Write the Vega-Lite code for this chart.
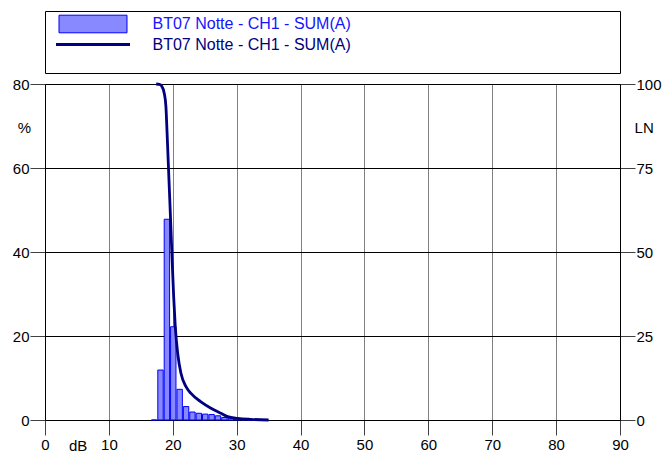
{
  "$schema": "https://vega.github.io/schema/vega-lite/v6.json",
  "padding": {"left": 11, "top": 10, "right": 0, "bottom": 6},
  "background": "white",
  "spacing": 11,
  "bounds": "flush",
  "config": {
    "view": {"stroke": "black", "strokeWidth": 1},
    "font": "Liberation Sans",
    "axis": {
      "labelFont": "Liberation Sans", "labelFontSize": 15, "labelColor": "black",
      "titleFont": "Liberation Sans", "titleFontSize": 15, "titleFontWeight": "normal", "titleColor": "black",
      "domainColor": "black", "tickColor": "#404040", "tickSize": 15, "labelFlush": false, "labelOverlap": false
    },
    "legend": {"labelFont": "Liberation Sans", "labelFontSize": 16, "padding": 0, "title": null, "labelLimit": 500}
  },
  "resolve": {"scale": {"fill": "independent", "stroke": "independent"}, "legend": {"fill": "independent", "stroke": "independent"}},
  "datasets": {
    "bars": [
      {"lo": 16.5, "hi": 17.5, "pct": 0, "s1": "BT07 Notte - CH1 - SUM(A)"},
      {"lo": 17.5, "hi": 18.5, "pct": 11.9, "s1": "BT07 Notte - CH1 - SUM(A)"},
      {"lo": 18.5, "hi": 19.5, "pct": 47.8, "s1": "BT07 Notte - CH1 - SUM(A)"},
      {"lo": 19.5, "hi": 20.5, "pct": 22.2, "s1": "BT07 Notte - CH1 - SUM(A)"},
      {"lo": 20.5, "hi": 21.5, "pct": 7.3, "s1": "BT07 Notte - CH1 - SUM(A)"},
      {"lo": 21.5, "hi": 22.5, "pct": 3.2, "s1": "BT07 Notte - CH1 - SUM(A)"},
      {"lo": 22.5, "hi": 23.5, "pct": 1.9, "s1": "BT07 Notte - CH1 - SUM(A)"},
      {"lo": 23.5, "hi": 24.5, "pct": 1.6, "s1": "BT07 Notte - CH1 - SUM(A)"},
      {"lo": 24.5, "hi": 25.5, "pct": 1.4, "s1": "BT07 Notte - CH1 - SUM(A)"},
      {"lo": 25.5, "hi": 26.5, "pct": 1.3, "s1": "BT07 Notte - CH1 - SUM(A)"},
      {"lo": 26.5, "hi": 27.5, "pct": 1.0, "s1": "BT07 Notte - CH1 - SUM(A)"},
      {"lo": 27.5, "hi": 28.5, "pct": 0.6, "s1": "BT07 Notte - CH1 - SUM(A)"},
      {"lo": 28.5, "hi": 29.5, "pct": 0.4, "s1": "BT07 Notte - CH1 - SUM(A)"},
      {"lo": 29.5, "hi": 30.5, "pct": 0.2, "s1": "BT07 Notte - CH1 - SUM(A)"},
      {"lo": 30.5, "hi": 31.5, "pct": 0.1, "s1": "BT07 Notte - CH1 - SUM(A)"},
      {"lo": 31.5, "hi": 32.5, "pct": 0, "s1": "BT07 Notte - CH1 - SUM(A)"},
      {"lo": 32.5, "hi": 33.5, "pct": 0, "s1": "BT07 Notte - CH1 - SUM(A)"},
      {"lo": 33.5, "hi": 34.5, "pct": 0, "s1": "BT07 Notte - CH1 - SUM(A)"}
    ],
    "cum": [
      {"dB": 17.4, "ln": 100, "s2": "BT07 Notte - CH1 - SUM(A)"},
      {"dB": 17.9, "ln": 99.9, "s2": "BT07 Notte - CH1 - SUM(A)"},
      {"dB": 18.26, "ln": 99.4, "s2": "BT07 Notte - CH1 - SUM(A)"},
      {"dB": 18.67, "ln": 97.2, "s2": "BT07 Notte - CH1 - SUM(A)"},
      {"dB": 18.93, "ln": 93.2, "s2": "BT07 Notte - CH1 - SUM(A)"},
      {"dB": 19.09, "ln": 86.3, "s2": "BT07 Notte - CH1 - SUM(A)"},
      {"dB": 19.3, "ln": 76.4, "s2": "BT07 Notte - CH1 - SUM(A)"},
      {"dB": 19.51, "ln": 66.5, "s2": "BT07 Notte - CH1 - SUM(A)"},
      {"dB": 19.72, "ln": 56.5, "s2": "BT07 Notte - CH1 - SUM(A)"},
      {"dB": 19.92, "ln": 46.6, "s2": "BT07 Notte - CH1 - SUM(A)"},
      {"dB": 20.14, "ln": 36.7, "s2": "BT07 Notte - CH1 - SUM(A)"},
      {"dB": 20.39, "ln": 27.8, "s2": "BT07 Notte - CH1 - SUM(A)"},
      {"dB": 20.77, "ln": 19.8, "s2": "BT07 Notte - CH1 - SUM(A)"},
      {"dB": 21.28, "ln": 13.9, "s2": "BT07 Notte - CH1 - SUM(A)"},
      {"dB": 22.07, "ln": 9.9, "s2": "BT07 Notte - CH1 - SUM(A)"},
      {"dB": 22.85, "ln": 7.9, "s2": "BT07 Notte - CH1 - SUM(A)"},
      {"dB": 24.41, "ln": 5.4, "s2": "BT07 Notte - CH1 - SUM(A)"},
      {"dB": 25.98, "ln": 3.5, "s2": "BT07 Notte - CH1 - SUM(A)"},
      {"dB": 27.54, "ln": 2.0, "s2": "BT07 Notte - CH1 - SUM(A)"},
      {"dB": 28.59, "ln": 1.0, "s2": "BT07 Notte - CH1 - SUM(A)"},
      {"dB": 30.16, "ln": 0.5, "s2": "BT07 Notte - CH1 - SUM(A)"},
      {"dB": 32.2, "ln": 0.2, "s2": "BT07 Notte - CH1 - SUM(A)"},
      {"dB": 35.0, "ln": 0, "s2": "BT07 Notte - CH1 - SUM(A)"}
    ]
  },
  "vconcat": [
    {
      "width": 575, "height": 62,
      "view": {"stroke": "black", "strokeWidth": 1, "fill": "white"},
      "data": {"values": [{"k": 1}]},
      "mark": {"type": "point", "opacity": 0, "size": 0},
      "encoding": {
        "x": {"field": "k", "type": "quantitative", "axis": null, "scale": {"domain": [0, 2]}},
        "y": {"field": "k", "type": "quantitative", "axis": null, "scale": {"domain": [0, 2]}}
      }
    },
    {
      "width": 575, "height": 336,
      "resolve": {"scale": {"y": "independent"}},
      "layer": [
        {
          "data": {"name": "bars"},
          "mark": {"type": "bar", "stroke": "#0000ff", "strokeWidth": 1},
          "encoding": {
            "x": {"field": "lo", "type": "quantitative", "bin": "binned",
              "scale": {"domain": [0, 90], "nice": false, "zero": false},
              "axis": {"values": [0, 10, 20, 30, 40, 50, 60, 70, 80, 90], "format": "d", "grid": true, "gridColor": "#808080", "gridWidth": 1,
                "labelPadding": 2, "labelBaseline": "top",
                "title": "dB", "titleX": 32.7, "titleY": 25, "titleAlign": "center", "titleBaseline": "middle", "titleAnchor": null}},
            "x2": {"field": "hi"},
            "y": {"field": "pct", "type": "quantitative",
              "scale": {"domain": [0, 80], "nice": false},
              "axis": {"values": [0, 20, 40, 60, 80], "grid": true, "gridColor": "black", "gridWidth": 1, "labelPadding": 1,
                "title": "%", "titleAngle": 0, "titleX": -21, "titleY": 43, "titleAlign": "center", "titleBaseline": "middle", "titleAnchor": null}},
            "fill": {"field": "s1", "type": "nominal", "scale": {"range": ["#8888ff"]},
              "legend": {"orient": "none", "legendX": 37.5, "legendY": -70.5, "symbolType": "M-3.4,-0.88H3.4V0.88H-3.4Z", "symbolSize": 400,
                "symbolStrokeColor": "#0000ff", "symbolStrokeWidth": 1, "symbolOpacity": 1, "labelColor": "#1414ff", "labelOffset": 49}}
          }
        },
        {
          "data": {"name": "cum"},
          "mark": {"type": "line", "strokeWidth": 2.8, "interpolate": "monotone"},
          "encoding": {
            "x": {"field": "dB", "type": "quantitative", "axis": {"title": "dB"}},
            "y": {"field": "ln", "type": "quantitative",
              "scale": {"domain": [0, 100], "nice": false},
              "axis": {"orient": "right", "values": [0, 25, 50, 75, 100], "grid": false, "labelPadding": 1,
                "title": "LN", "titleAngle": 0, "titleX": 23.7, "titleY": 43, "titleAlign": "center", "titleBaseline": "middle", "titleAnchor": null}},
            "stroke": {"field": "s2", "type": "nominal", "scale": {"range": ["#000080"]},
              "legend": {"orient": "none", "legendX": 36.5, "legendY": -51, "symbolType": "M-3.7,0H3.7", "symbolSize": 400,
                "symbolStrokeWidth": 3, "symbolFillColor": "transparent", "labelColor": "#000080", "labelOffset": 48}}
          }
        }
      ]
    }
  ]
}
